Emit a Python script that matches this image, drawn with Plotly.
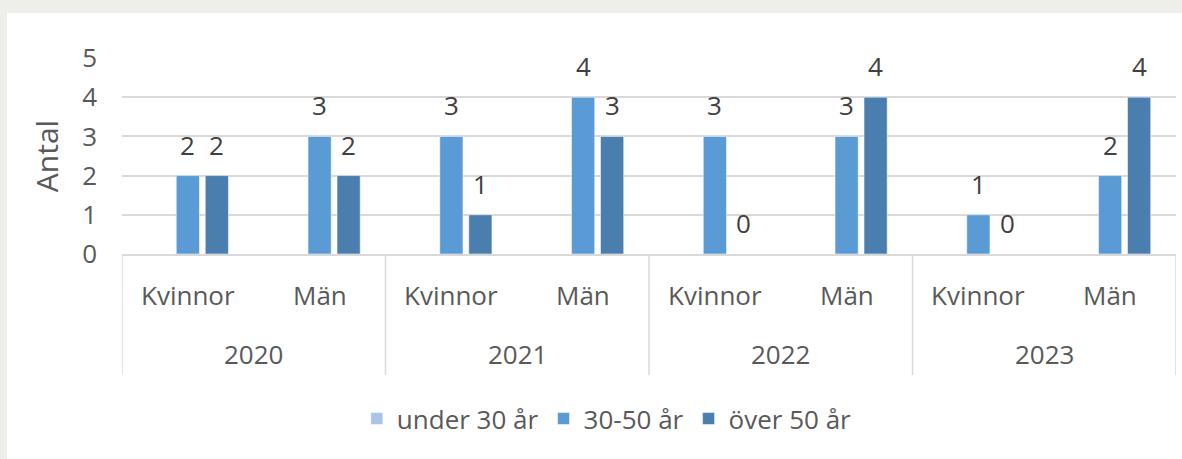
import plotly.graph_objects as go

years = ["2020", "2020", "2021", "2021", "2022", "2022", "2023", "2023"]
genders = ["Kvinnor", "Män", "Kvinnor", "Män", "Kvinnor", "Män", "Kvinnor", "Män"]
under30 = [None, None, None, None, None, None, None, None]
age30_50 = [2, 3, 3, 4, 3, 3, 1, 2]
over50 = [2, 2, 1, 3, 0, 4, 0, 4]
series_names = ["under 30 år", "30-50 år", "över 50 år"]
colors = ["#A9C4E6", "#5B9BD5", "#4A7EAF"]
y_ticks = [0, 1, 2, 3, 4, 5]

W, H = 1182, 459
L, R, T, B = 122, 6, 58, 205
FONT = "Open Sans"
TXT = "#595959"
BARGAP, GROUPGAP = 0.34, 0.2
GRID = "#D9D9D9"

pw = W - L - R
ph = H - T - B
n = len(genders)
xi = list(range(n))
series = [under30, age30_50, over50]
slot_px = (1 - BARGAP) * (pw / n) / len(series)

fig = go.Figure()
for name, vals, col in zip(series_names, series, colors):
    fig.add_trace(go.Bar(
        x=xi, y=vals, name=name,
        marker=dict(color=col, line=dict(color="rgba(255,255,255,0.5)", width=1)),
        hoverinfo="skip",
    ))

annotations = []
# data labels
for si, vals in enumerate(series):
    off = (si - (len(series) - 1) / 2) * slot_px
    for i, v in enumerate(vals):
        if v is None:
            continue
        annotations.append(dict(x=i, y=v, xref="x", yref="y", text=str(v), showarrow=False,
                                xshift=off, yshift=31, yanchor="middle",
                                font=dict(size=26, color="#404040", family=FONT)))
# gender labels
for i, g in enumerate(genders):
    annotations.append(dict(x=i, y=0, xref="x", yref="paper", text=g, showarrow=False,
                            yshift=-41, yanchor="middle",
                            font=dict(size=26, color=TXT, family=FONT)))
# year labels and dividers
unique_years = list(dict.fromkeys(years))
shapes = []
for yv in unique_years:
    idx = [i for i, y in enumerate(years) if y == yv]
    annotations.append(dict(x=sum(idx) / len(idx), y=0, xref="x", yref="paper", text=yv,
                            showarrow=False, yshift=-100, yanchor="middle",
                            font=dict(size=26, color=TXT, family=FONT)))
    shapes.append(dict(type="line", xref="x", yref="paper", x0=min(idx) - 0.5, x1=min(idx) - 0.5,
                       y0=0, y1=-(375 - (H - B)) / ph, line=dict(color=GRID, width=1.5)))
shapes.append(dict(type="line", xref="x", yref="paper", x0=n - 0.5, x1=n - 0.5,
                   y0=0, y1=-(375 - (H - B)) / ph, line=dict(color=GRID, width=1.5)))
shapes.append(dict(type="rect", xref="paper", yref="paper",
                   x0=(7 - L) / pw, x1=(W - L) / pw + 0.01, y0=-(H - T) / ph, y1=(H - 13 - B) / ph,
                   fillcolor="white", line=dict(width=0), layer="below"))

fig.update_layout(
    width=W, height=H,
    margin=dict(l=L, r=R, t=T, b=B, pad=0, autoexpand=False),
    paper_bgcolor="#EFEFEA", plot_bgcolor="rgba(0,0,0,0)",
    barmode="group", bargap=BARGAP, bargroupgap=GROUPGAP,
    font=dict(family=FONT, color=TXT, size=26),
    showlegend=True,
    legend=dict(orientation="h", x=0.46, xanchor="center", y=-0.84, yanchor="middle",
                font=dict(size=26, color=TXT, family=FONT), bgcolor="rgba(0,0,0,0)",
                itemwidth=30, traceorder="normal"),
    yaxis=dict(range=[0, 5], tickvals=y_ticks, showgrid=True, gridcolor=GRID, gridwidth=1.5,
               zeroline=False, showline=False, ticks="", ticklabelstandoff=24,
               tickfont=dict(size=26, color=TXT, family=FONT),
               title=dict(text="Antal", font=dict(size=30, color=TXT, family=FONT), standoff=14)),
    xaxis=dict(range=[-0.5, n - 0.5], showline=True, linecolor=GRID, linewidth=1.5,
               showticklabels=False, ticks="", showgrid=False, zeroline=False),
    annotations=annotations, shapes=shapes,
)
fig.write_html("out.html", config={"displayModeBar": False},
               post_script="document.body.style.margin='0';")
